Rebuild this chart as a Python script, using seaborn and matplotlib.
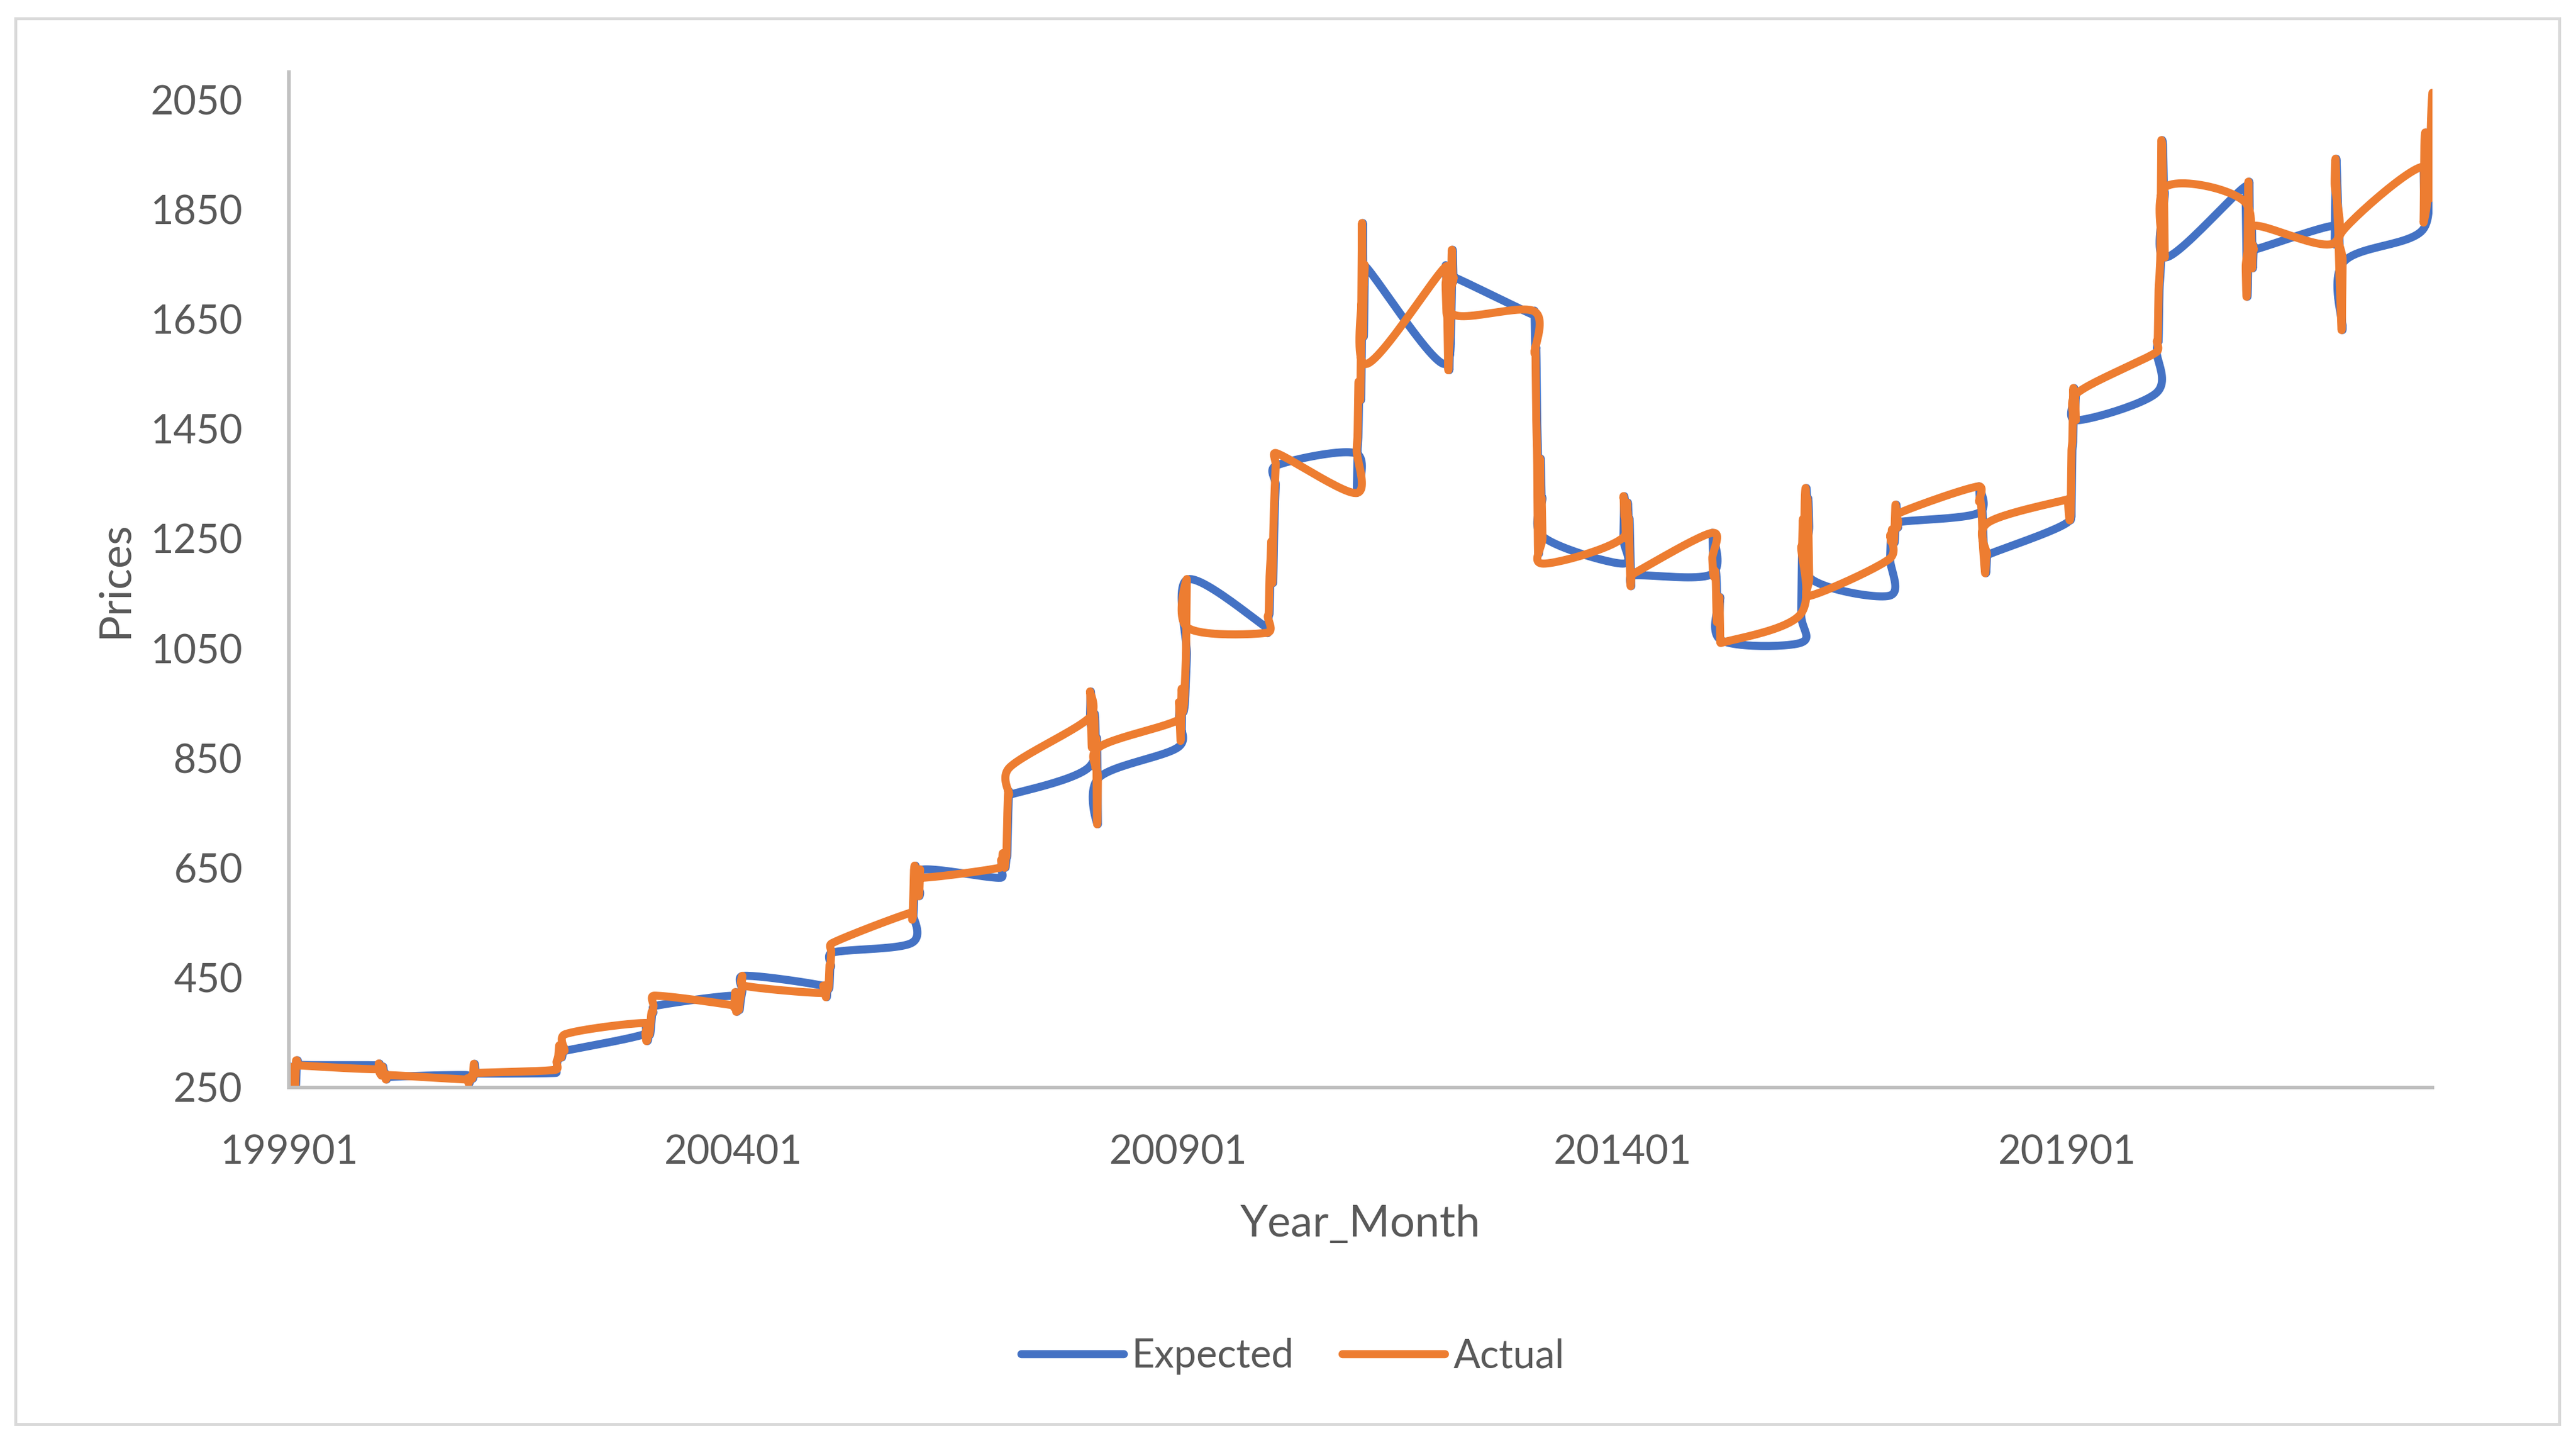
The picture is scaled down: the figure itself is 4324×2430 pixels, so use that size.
import numpy as np
import pandas as pd
import matplotlib
matplotlib.use("Agg")
import matplotlib.pyplot as plt
from matplotlib.patches import Rectangle
import seaborn as sns

# ---------------- data ----------------
years = list(range(1999, 2024))
months = list(range(1, 13))
year_month = [y * 100 + m for y in years for m in months]

actual = [
    287.10, 287.80, 279.45, 286.60, 268.60, 261.00, 255.60, 254.80, 299.00, 299.10, 291.35, 290.25,
    283.30, 293.65, 276.75, 275.10, 272.25, 288.15, 276.75, 277.00, 273.65, 264.50, 269.10, 272.65,
    264.50, 266.70, 257.70, 263.15, 267.50, 270.60, 265.90, 273.00, 293.10, 278.75, 275.50, 276.50,
    282.30, 296.85, 301.40, 308.20, 326.60, 318.50, 304.65, 312.80, 323.70, 316.90, 317.05, 347.20,
    367.50, 347.45, 334.85, 336.75, 361.40, 346.00, 354.75, 375.60, 388.00, 386.25, 398.35, 417.25,
    399.75, 395.85, 423.70, 388.50, 393.25, 395.80, 391.40, 407.25, 415.65, 425.55, 453.40, 435.60,
    422.15, 435.45, 427.50, 435.70, 414.45, 437.10, 429.00, 433.25, 473.25, 470.75, 495.65, 513.00,
    568.75, 556.00, 582.00, 644.00, 653.00, 613.50, 632.50, 623.50, 599.25, 603.75, 646.70, 632.00,
    650.50, 664.20, 661.75, 677.00, 659.10, 650.50, 665.50, 672.00, 743.00, 789.50, 783.50, 833.75,
    923.25, 971.50, 933.50, 871.00, 885.75, 930.25, 918.00, 833.00, 884.50, 730.75, 814.50, 869.75,
    919.50, 952.00, 916.50, 883.25, 975.50, 934.50, 939.00, 955.50, 995.75, 1040.00, 1175.75, 1087.50,
    1078.50, 1108.25, 1113.25, 1179.25, 1207.50, 1244.00, 1169.00, 1246.00, 1307.00, 1346.75, 1383.50, 1405.50,
    1333.00, 1411.00, 1439.00, 1535.50, 1536.50, 1505.50, 1628.50, 1825.00, 1620.00, 1722.00, 1746.00, 1568.00,
    1744.00, 1711.00, 1662.50, 1651.25, 1558.00, 1598.50, 1622.00, 1692.50, 1776.00, 1719.00, 1726.00, 1657.50,
    1664.75, 1588.50, 1598.25, 1469.00, 1394.50, 1224.00, 1314.50, 1396.00, 1326.50, 1324.00, 1253.00, 1204.50,
    1251.00, 1326.50, 1291.75, 1288.50, 1250.50, 1315.00, 1285.25, 1286.00, 1216.50, 1164.25, 1182.75, 1185.00,
    1260.25, 1214.00, 1187.00, 1180.25, 1191.40, 1171.00, 1098.40, 1135.00, 1114.00, 1142.35, 1065.00, 1060.00,
    1111.80, 1234.90, 1237.00, 1285.65, 1215.50, 1320.75, 1342.00, 1309.25, 1322.50, 1272.00, 1178.10, 1145.90,
    1212.80, 1255.60, 1244.85, 1266.45, 1266.20, 1242.25, 1267.55, 1311.75, 1283.10, 1270.15, 1280.20, 1296.50,
    1345.15, 1317.85, 1323.85, 1315.05, 1298.45, 1250.45, 1223.70, 1201.65, 1187.25, 1214.95, 1220.65, 1279.00,
    1321.35, 1319.75, 1295.40, 1283.35, 1295.55, 1409.00, 1427.55, 1523.00, 1485.30, 1510.95, 1465.60, 1514.75,
    1589.15, 1609.85, 1608.95, 1702.75, 1728.70, 1768.10, 1975.05, 1967.50, 1886.90, 1879.90, 1762.35, 1891.10,
    1863.35, 1743.40, 1691.05, 1768.45, 1900.40, 1763.15, 1813.75, 1814.10, 1742.80, 1783.40, 1776.65, 1820.10,
    1788.15, 1900.10, 1942.15, 1896.35, 1848.45, 1817.00, 1753.95, 1712.40, 1660.60, 1633.55, 1753.70, 1812.35,
    1927.45, 1826.00, 1969.20, 1990.00, 1962.20, 1912.25, 1965.40, 1942.30, 1870.05, 1983.80, 2036.30, 2062.40,
]

expected = [
    287.45, 287.10, 287.80, 279.45, 286.60, 268.60, 261.00, 255.60, 254.80, 299.00, 299.10, 291.35,
    290.25, 283.30, 293.65, 276.75, 275.10, 272.25, 288.15, 276.75, 277.00, 273.65, 264.50, 269.10,
    272.65, 264.50, 266.70, 257.70, 263.15, 267.50, 270.60, 265.90, 273.00, 293.10, 278.75, 275.50,
    276.50, 282.30, 296.85, 301.40, 308.20, 326.60, 318.50, 304.65, 312.80, 323.70, 316.90, 317.05,
    347.20, 367.50, 347.45, 334.85, 336.75, 361.40, 346.00, 354.75, 375.60, 388.00, 386.25, 398.35,
    417.25, 399.75, 395.85, 423.70, 388.50, 393.25, 395.80, 391.40, 407.25, 415.65, 425.55, 453.40,
    435.60, 422.15, 435.45, 427.50, 435.70, 414.45, 437.10, 429.00, 433.25, 473.25, 470.75, 495.65,
    513.00, 568.75, 556.00, 582.00, 644.00, 653.00, 613.50, 632.50, 623.50, 599.25, 603.75, 646.70,
    632.00, 650.50, 664.20, 661.75, 677.00, 659.10, 650.50, 665.50, 672.00, 743.00, 789.50, 783.50,
    833.75, 923.25, 971.50, 933.50, 871.00, 885.75, 930.25, 918.00, 833.00, 884.50, 730.75, 814.50,
    869.75, 919.50, 952.00, 916.50, 883.25, 975.50, 934.50, 939.00, 955.50, 995.75, 1040.00, 1175.75,
    1087.50, 1078.50, 1108.25, 1113.25, 1179.25, 1207.50, 1244.00, 1169.00, 1246.00, 1307.00, 1346.75, 1383.50,
    1405.50, 1333.00, 1411.00, 1439.00, 1535.50, 1536.50, 1505.50, 1628.50, 1825.00, 1620.00, 1722.00, 1746.00,
    1568.00, 1744.00, 1711.00, 1662.50, 1651.25, 1558.00, 1598.50, 1622.00, 1692.50, 1776.00, 1719.00, 1726.00,
    1657.50, 1664.75, 1588.50, 1598.25, 1469.00, 1394.50, 1224.00, 1314.50, 1396.00, 1326.50, 1324.00, 1253.00,
    1204.50, 1251.00, 1326.50, 1291.75, 1288.50, 1250.50, 1315.00, 1285.25, 1286.00, 1216.50, 1164.25, 1182.75,
    1185.00, 1260.25, 1214.00, 1187.00, 1180.25, 1191.40, 1171.00, 1098.40, 1135.00, 1114.00, 1142.35, 1065.00,
    1060.00, 1111.80, 1234.90, 1237.00, 1285.65, 1215.50, 1320.75, 1342.00, 1309.25, 1322.50, 1272.00, 1178.10,
    1145.90, 1212.80, 1255.60, 1244.85, 1266.45, 1266.20, 1242.25, 1267.55, 1311.75, 1283.10, 1270.15, 1280.20,
    1296.50, 1345.15, 1317.85, 1323.85, 1315.05, 1298.45, 1250.45, 1223.70, 1201.65, 1187.25, 1214.95, 1220.65,
    1279.00, 1321.35, 1319.75, 1295.40, 1283.35, 1295.55, 1409.00, 1427.55, 1523.00, 1485.30, 1510.95, 1465.60,
    1514.75, 1589.15, 1609.85, 1608.95, 1702.75, 1728.70, 1768.10, 1975.05, 1967.50, 1886.90, 1879.90, 1762.35,
    1891.10, 1863.35, 1743.40, 1691.05, 1768.45, 1900.40, 1763.15, 1813.75, 1814.10, 1742.80, 1783.40, 1776.65,
    1820.10, 1788.15, 1900.10, 1942.15, 1896.35, 1848.45, 1817.00, 1753.95, 1712.40, 1660.60, 1633.55, 1753.70,
    1812.35, 1927.45, 1826.00, 1969.20, 1990.00, 1962.20, 1912.25, 1965.40, 1942.30, 1870.05, 1983.80, 2036.30,
]

x_tick_values = [199901, 200401, 200901, 201401, 201901]
y_tick_values = [250, 450, 650, 850, 1050, 1250, 1450, 1650, 1850, 2050]
series_names = ["Expected", "Actual"]
series_colors = ["#4472C4", "#ED7D31"]

# ---------------- figure ----------------
W, H, DPI = 4324, 2430, 300
PX = 72.0 / DPI  # points per pixel

sns.set_theme(style="white")
plt.rcParams["font.family"] = ["Lato", "DejaVu Sans"]
TXT = "#595959"

fig = plt.figure(figsize=(W / DPI, H / DPI), dpi=DPI, facecolor="white")
ax = fig.add_axes([485 / W, 1 - 1825 / H, (4083 - 485) / W, (1825 - 121) / H])
XLIM = (199901, 202312)
YLIM = (250, 2100)
ax.set_xlim(*XLIM)
ax.set_ylim(*YLIM)


def excel_smooth(xv, yv, steps=24):
    """Bezier smoothing in screen space, similar to Excel's smoothed line."""
    P = ax.transData.transform(np.column_stack([xv, yv]).astype(float))
    n = len(P)
    out = [P[0]]
    t = np.linspace(0, 1, steps + 1)[1:, None]
    for i in range(n - 1):
        p1, p2 = P[i], P[i + 1]
        p0 = P[i - 1] if i > 0 else p1
        p3 = P[i + 2] if i + 2 < n else p2
        d12 = np.hypot(*(p2 - p1))
        d02 = np.hypot(*(p2 - p0))
        d13 = np.hypot(*(p3 - p1))
        f = 1 / 6 if d02 == 0 else min(1 / 6, d12 / (2 * d02))
        g = 1 / 6 if d13 == 0 else min(1 / 6, d12 / (2 * d13))
        c1 = p1 + f * (p2 - p0)
        c2 = p2 - g * (p3 - p1)
        seg = ((1 - t) ** 3) * p1 + 3 * ((1 - t) ** 2) * t * c1 + 3 * (1 - t) * (t ** 2) * c2 + (t ** 3) * p2
        out.extend(seg)
    out = np.array(out)
    return ax.transData.inverted().transform(out)


LW = 13.5 * PX
for name, vals, col in zip(series_names, [expected, actual], series_colors):
    curve = excel_smooth(year_month, vals)
    df = pd.DataFrame({"Year_Month": curve[:, 0], "Prices": curve[:, 1]})
    sns.lineplot(data=df, x="Year_Month", y="Prices", sort=False, estimator=None,
                 color=col, linewidth=LW, label=name, ax=ax,
                 solid_capstyle="round", solid_joinstyle="round")

ax.set_xlim(*XLIM)
ax.set_ylim(*YLIM)

# axes styling
for s in ["top", "right"]:
    ax.spines[s].set_visible(False)
for s in ["left", "bottom"]:
    ax.spines[s].set_color("#BFBFBF")
    ax.spines[s].set_linewidth(6 * PX)
ax.grid(False)

ax.set_xticks(x_tick_values)
ax.set_xticklabels([str(v) for v in x_tick_values])
ax.set_yticks(y_tick_values)
ax.set_yticklabels([str(v) for v in y_tick_values])
ax.tick_params(axis="both", length=0, pad=78 * PX, labelsize=16, labelcolor=TXT)

ax.set_xlabel("Year_Month", fontsize=17.8, color=TXT)
ax.set_ylabel("Prices", fontsize=17.8, color=TXT)
ax.xaxis.set_label_coords(0.5, (1825 - 2055) / 1704)
ax.xaxis.label.set_va("center")
ax.yaxis.set_label_coords((193 - 485) / 3598, 0.5)
ax.yaxis.label.set_va("center")

# legend
fs = 16
em = fs / PX  # font size in pixels
leg = ax.legend(loc="center", bbox_to_anchor=(2170 / W, 1 - 2276 / H),
                bbox_transform=fig.transFigure, ncol=2, frameon=False,
                fontsize=fs, handlelength=172 / em, handletextpad=14 / em,
                columnspacing=81 / em, borderaxespad=0, borderpad=0)
for txt in leg.get_texts():
    txt.set_color(TXT)

# chart-area border
fig.patches.append(Rectangle((26 / W, 1 - 2390 / H), (4296 - 26) / W, (2390 - 31) / H,
                             transform=fig.transFigure, fill=False,
                             edgecolor="#D9D9D9", linewidth=5 * PX))

fig.savefig("out.png", dpi=DPI, facecolor="white")
